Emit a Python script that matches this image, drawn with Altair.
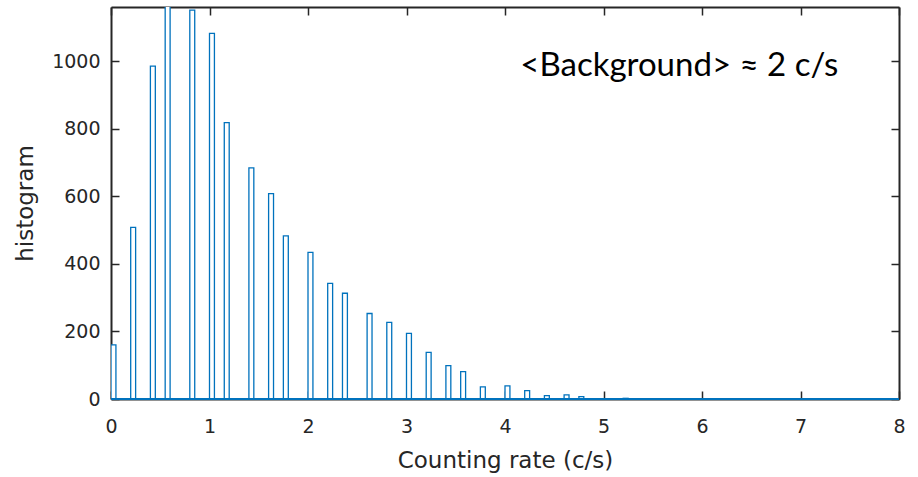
import altair as alt
import pandas as pd

# ---- data ----
bin_start = [0.0, 0.2, 0.4, 0.55, 0.8, 1.0, 1.15, 1.4, 1.6, 1.75, 2.0, 2.2, 2.35,
             2.6, 2.8, 3.0, 3.2, 3.4, 3.55, 3.75, 4.0, 4.2, 4.4, 4.6, 4.75, 5.2, 6.2]
counts = [160, 508, 985, 1190, 1151, 1082, 818, 684, 608, 483, 434, 342, 313,
          253, 227, 194, 138, 99, 81, 36, 39, 25, 10, 12, 7, 2, 1]
bin_width = 0.05
x_ticks = [0, 1, 2, 3, 4, 5, 6, 7, 8]
y_ticks = [0, 200, 400, 600, 800, 1000]
x_range = [0, 8]
y_range = [0, 1160]
x_title = "Counting rate (c/s)"
y_title = "histogram"
annotation = "<Background> \u2248 2 c/s"
annot_x = 5.77
annot_y = 985

df = pd.DataFrame({"start": bin_start, "count": counts})
df_base = pd.DataFrame({"x": [x_range[0]], "x2": [x_range[1]], "y": [0]})
df_text = pd.DataFrame({"x": [annot_x], "y": [annot_y], "label": [annotation]})

BLUE = "#0072BD"
INK = "#262626"
TICK = 8
FONT = "DejaVu Sans"

xs = alt.Scale(domain=x_range, nice=False, zero=False)
ys = alt.Scale(domain=y_range, nice=False)


def tick_axis(orient, values):
    return alt.Axis(orient=orient, offset=-TICK, values=values, labels=False,
                    domain=False, grid=False, title=None, ticks=True,
                    tickSize=TICK, tickColor=INK, tickWidth=1.5)


def frame_axis(orient):
    return alt.Axis(orient=orient, labels=False, ticks=False, grid=False,
                    title=None, domain=True, domainColor=INK, domainWidth=2)


main_x = alt.Axis(orient="bottom", values=x_ticks, ticks=False, domain=True,
                  domainColor=INK, domainWidth=2,
                  grid=False, labelPadding=18, labelFontSize=19, labelFont=FONT,
                  labelColor=INK, title=x_title, titleFont=FONT, titleFontSize=23,
                  titleFontWeight="normal", titleColor=INK, titlePadding=13,
                  labelFlush=False)
main_y = alt.Axis(orient="left", values=y_ticks, ticks=False, domain=True,
                  domainColor=INK, domainWidth=2,
                  grid=False, labelPadding=11, labelFontSize=19, labelFont=FONT,
                  labelColor=INK, format="d", title=y_title, titleFont=FONT,
                  titleFontSize=23, titleFontWeight="normal", titleColor=INK,
                  titlePadding=14)

bars = alt.Chart(df).transform_calculate(
    end=f"datum.start + {bin_width}"
).mark_bar(fill="white", stroke=BLUE, strokeWidth=1.3, clip=True).encode(
    x=alt.X("start:Q", scale=xs, axis=main_x),
    x2="end:Q",
    y=alt.Y("count:Q", scale=ys, axis=main_y),
    y2=alt.datum(0),
)

base = alt.Chart(df_base).mark_rule(color=BLUE, strokeWidth=2).encode(
    x=alt.X("x:Q", scale=xs, axis=tick_axis("bottom", x_ticks)),
    x2="x2:Q",
    y=alt.Y("y:Q", scale=ys, axis=tick_axis("left", y_ticks)),
)

text = alt.Chart(df_text).mark_text(font="Lato", fontSize=33, color="black",
                                    align="center", baseline="middle").encode(
    x=alt.X("x:Q", scale=xs, axis=tick_axis("top", x_ticks)),
    y=alt.Y("y:Q", scale=ys, axis=tick_axis("right", y_ticks)),
    text="label:N",
)

frame = alt.Chart(df_text).mark_point(opacity=0).encode(
    x=alt.X("x:Q", scale=xs, axis=frame_axis("top")),
    y=alt.Y("y:Q", scale=ys, axis=frame_axis("right")),
)

chart = alt.layer(bars, base, text, frame).resolve_axis(
    x="independent", y="independent"
).properties(
    width=788, height=392,
    background="white",
    autosize=alt.AutoSizeParams(type="none"),
    padding={"left": 111, "top": 7, "right": 19, "bottom": 78},
).configure_view(stroke=None)

chart.save("out.html", embed_options={"renderer": "svg", "actions": False})
